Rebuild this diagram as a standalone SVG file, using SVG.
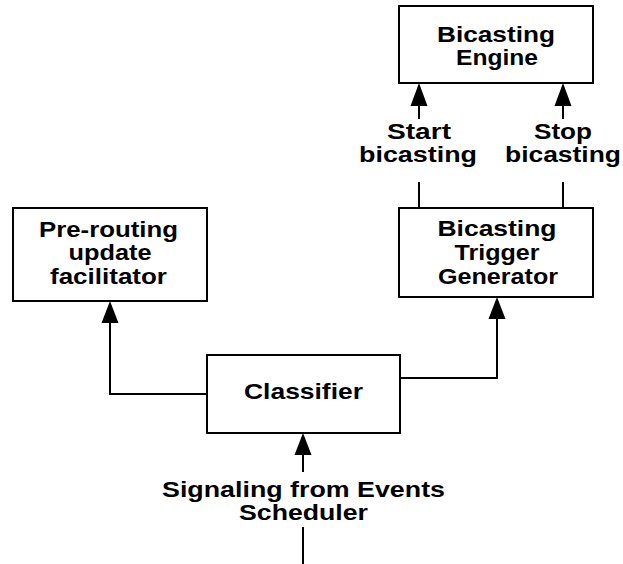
<svg xmlns="http://www.w3.org/2000/svg" width="623" height="564" viewBox="0 0 623 564">
<style>
.box{fill:#fff;stroke:#000;stroke-width:2}
.ln{fill:none;stroke:#000;stroke-width:2}
.ah{fill:#000}
text{font-family:"Liberation Sans",Arial,sans-serif;font-weight:bold;font-size:22.5px;fill:#000;text-anchor:middle}
</style>
<rect width="623" height="564" fill="#fff"/>
<g id="connectors">
<line class="ln" x1="419" y1="208" x2="419" y2="182"/>
<line class="ln" x1="419" y1="119" x2="419" y2="104"/>
<polygon class="ah" points="419,83 410.5,106 427.5,106"/>
<line class="ln" x1="563" y1="208" x2="563" y2="182"/>
<line class="ln" x1="563" y1="119" x2="563" y2="104"/>
<polygon class="ah" points="563,83 554.5,106 571.5,106"/>
<text x="419" y="139" textLength="64" lengthAdjust="spacingAndGlyphs">Start</text>
<text x="418" y="162" textLength="118" lengthAdjust="spacingAndGlyphs">bicasting</text>
<text x="563" y="139" textLength="58" lengthAdjust="spacingAndGlyphs">Stop</text>
<text x="563" y="162" textLength="116" lengthAdjust="spacingAndGlyphs">bicasting</text>
<polyline class="ln" points="207,394 110,394 110,320"/>
<polygon class="ah" points="110,301 101.5,323 118.5,323"/>
<polyline class="ln" points="400,378 497,378 497,316"/>
<polygon class="ah" points="497,297 488.5,319 505.5,319"/>
<line class="ln" x1="303" y1="564" x2="303" y2="527"/>
<line class="ln" x1="303" y1="472" x2="303" y2="452"/>
<polygon class="ah" points="303,433 294.5,455 311.5,455"/>
<text x="303.5" y="497" textLength="283" lengthAdjust="spacingAndGlyphs">Signaling from Events</text>
<text x="303.5" y="520" textLength="129" lengthAdjust="spacingAndGlyphs">Scheduler</text>
</g>
<g id="engine">
<rect class="box" x="399" y="6" width="194" height="77"/>
<text x="496" y="41.5" textLength="118" lengthAdjust="spacingAndGlyphs">Bicasting</text>
<text x="497" y="65" textLength="82" lengthAdjust="spacingAndGlyphs">Engine</text>
</g>
<g id="trigger">
<rect class="box" x="399" y="208" width="194" height="89"/>
<text x="497" y="236" textLength="119" lengthAdjust="spacingAndGlyphs">Bicasting</text>
<text x="497" y="260" textLength="85" lengthAdjust="spacingAndGlyphs">Trigger</text>
<text x="498" y="284" textLength="120" lengthAdjust="spacingAndGlyphs">Generator</text>
</g>
<g id="prerouting">
<rect class="box" x="13" y="208" width="194" height="93"/>
<text x="108.5" y="237" textLength="139" lengthAdjust="spacingAndGlyphs">Pre-routing</text>
<text x="110" y="260" textLength="83" lengthAdjust="spacingAndGlyphs">update</text>
<text x="108.5" y="284" textLength="117" lengthAdjust="spacingAndGlyphs">facilitator</text>
</g>
<g id="classifier">
<rect class="box" x="207" y="355" width="193" height="78"/>
<text x="303.5" y="399" textLength="119" lengthAdjust="spacingAndGlyphs">Classifier</text>
</g>
</svg>
